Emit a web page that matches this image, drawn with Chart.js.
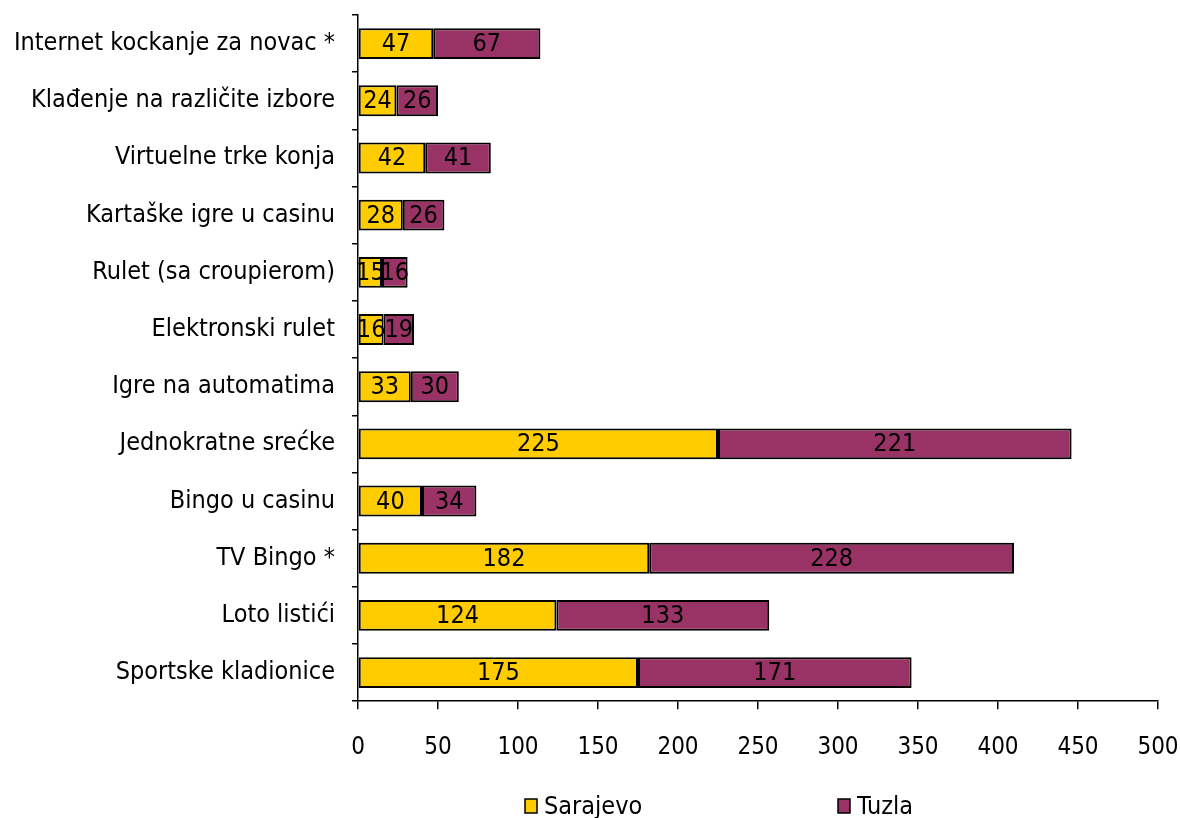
<!DOCTYPE html>
<html>
<head>
<meta charset="utf-8">
<script src="https://cdn.jsdelivr.net/npm/chart.js@4.4.1/dist/chart.umd.min.js"></script>
<style>
  html, body { margin: 0; padding: 0; background: #fff; }
  #wrap { width: 1180px; height: 818px; }
</style>
</head>
<body>
<div id="wrap"><canvas id="chart"></canvas></div>
<script>
// ===== data =====
const categories = [
  'Internet kockanje za novac *',
  'Klađenje na različite izbore',
  'Virtuelne trke konja',
  'Kartaške igre u casinu',
  'Rulet (sa croupierom)',
  'Elektronski rulet',
  'Igre na automatima',
  'Jednokratne srećke',
  'Bingo u casinu',
  'TV Bingo *',
  'Loto listići',
  'Sportske kladionice'
];
const sarajevo = [47, 24, 42, 28, 15, 16, 33, 225, 40, 182, 124, 175];
const tuzla    = [67, 26, 41, 26, 16, 19, 30, 221, 34, 228, 133, 171];
const seriesNames = ['Sarajevo', 'Tuzla'];
const xMin = 0, xMax = 500, xStep = 50;

// ===== style =====
const FONT = "'DejaVu Sans Condensed', 'DejaVu Sans', sans-serif";
const YELLOW = '#FFCC00';
const PURPLE = '#993366';

// numbers inside the bars
const barLabels = {
  id: 'barLabels',
  afterDatasetsDraw(chart) {
    const ctx = chart.ctx;
    ctx.save();
    ctx.font = '25px ' + FONT;
    ctx.fillStyle = '#000';
    ctx.textAlign = 'center';
    ctx.textBaseline = 'middle';
    chart.data.datasets.forEach((ds, i) => {
      chart.getDatasetMeta(i).data.forEach((bar, j) => {
        ctx.fillText(ds.data[j], (bar.x + bar.base) / 2, bar.y + 1);
      });
    });
    ctx.restore();
  }
};

// legend spread out like the original
const spreadLegend = {
  id: 'spreadLegend',
  afterDraw(chart) {
    const ctx = chart.ctx;
    const xs = [525, 838];
    const y = 806;
    ctx.save();
    ctx.font = '25px ' + FONT;
    ctx.textBaseline = 'middle';
    ctx.textAlign = 'left';
    chart.data.datasets.forEach((ds, i) => {
      ctx.fillStyle = ds.backgroundColor;
      ctx.strokeStyle = '#000';
      ctx.lineWidth = 1.5;
      ctx.fillRect(xs[i], y - 7, 12, 14);
      ctx.strokeRect(xs[i], y - 7, 12, 14);
      ctx.fillStyle = '#000';
      ctx.fillText(ds.label, xs[i] + 19, y + 1);
    });
    ctx.restore();
  }
};

new Chart(document.getElementById('chart'), {
  type: 'bar',
  data: {
    labels: categories,
    datasets: [
      { label: seriesNames[0], data: sarajevo, backgroundColor: YELLOW },
      { label: seriesNames[1], data: tuzla, backgroundColor: PURPLE }
    ]
  },
  options: {
    indexAxis: 'y',
    responsive: true,
    maintainAspectRatio: false,
    animation: false,
    devicePixelRatio: 1,
    layout: { padding: { top: 15, right: 22, bottom: 32, left: 0 } },
    datasets: {
      bar: {
        borderColor: '#000',
        borderWidth: 2,
        borderSkipped: false,
        categoryPercentage: 1,
        barPercentage: 0.54
      }
    },
    plugins: {
      legend: { display: false },
      tooltip: { enabled: false }
    },
    scales: {
      x: {
        stacked: true,
        min: xMin,
        max: xMax,
        ticks: { stepSize: xStep, color: '#000', padding: 24, font: { family: FONT, size: 24 } },
        grid: { drawOnChartArea: false, drawTicks: true, tickLength: 8, color: '#000', lineWidth: 1.5 },
        border: { color: '#000', width: 1.5 },
        afterFit(s) { s.paddingLeft = 0; s.paddingRight = 0; }
      },
      y: {
        stacked: true,
        ticks: { color: '#000', padding: 17, font: { family: FONT, size: 25 } },
        grid: { drawOnChartArea: false, drawTicks: true, tickLength: 6, color: '#000', lineWidth: 1.5 },
        border: { color: '#000', width: 1.5 },
        afterFit(s) { s.width = 358; s.paddingTop = 0; s.paddingBottom = 0; }
      }
    }
  },
  plugins: [barLabels, spreadLegend]
});
</script>
</body>
</html>
